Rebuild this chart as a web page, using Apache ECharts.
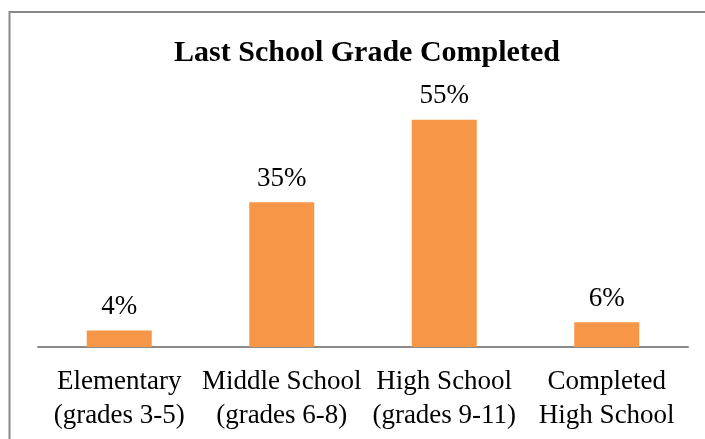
<!DOCTYPE html>
<html>
<head>
<meta charset="utf-8">
<script src="https://cdn.jsdelivr.net/npm/echarts@6/dist/echarts.min.js"></script>
<style>
  html, body { margin: 0; padding: 0; background: #fff; }
  #chart { width: 705px; height: 439px; }
</style>
</head>
<body>
<div id="chart"></div>
<script>
// categories and values
var grades = [
    'Elementary\n(grades 3-5)',
    'Middle School\n(grades 6-8)',
    'High School\n(grades 9-11)',
    'Completed\nHigh School'
];
var percents = [4, 35, 55, 6];

var font = '"Liberation Serif", "DejaVu Serif", serif';

var myChart = echarts.init(document.getElementById('chart'));
myChart.setOption({
    backgroundColor: '#fff',
    animation: false,
    title: {
        text: 'Last School Grade Completed',
        left: 362,
        textAlign: 'center',
        top: 33,
        textStyle: {
            fontFamily: font,
            fontSize: 30,
            fontWeight: 'bold',
            color: '#000'
        }
    },
    // outer frame of the chart area
    graphic: [{
        type: 'rect',
        shape: { x: 9.5, y: 12, width: 720, height: 460 },
        style: { fill: 'none', stroke: '#898989', lineWidth: 2 },
        silent: true
    }],
    grid: { left: 38, right: 17, top: 99, height: 248 },
    xAxis: {
        type: 'category',
        data: grades,
        axisLine: { lineStyle: { color: '#8a8a8a', width: 2 } },
        axisTick: { show: false },
        axisLabel: {
            interval: 0,
            margin: 18,
            fontFamily: font,
            fontSize: 27,
            lineHeight: 34,
            color: '#000'
        }
    },
    yAxis: {
        type: 'value',
        min: 0,
        max: 60,
        show: false,
        splitLine: { show: false }
    },
    series: [{
        type: 'bar',
        data: percents,
        barWidth: 65,
        itemStyle: { color: '#F79646' },
        label: {
            show: true,
            position: 'top',
            distance: 10,
            formatter: '{c}%',
            fontFamily: font,
            fontSize: 27,
            color: '#000'
        }
    }]
});
</script>
</body>
</html>
